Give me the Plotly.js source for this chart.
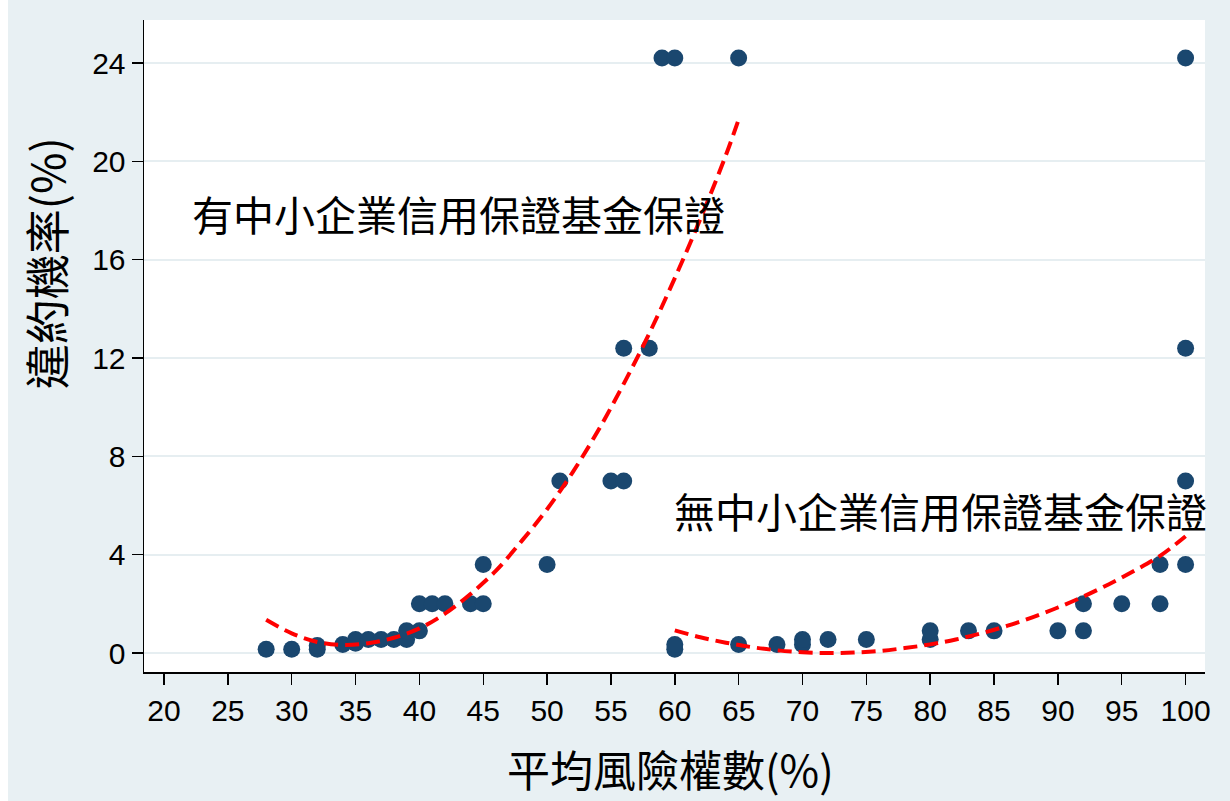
<!DOCTYPE html>
<html>
<head>
<meta charset="utf-8">
<script src="https://cdn.plot.ly/plotly-3.0.1.min.js"></script>
<style>
  html, body { margin: 0; padding: 0; background: #ffffff; }
  #chart { position: absolute; left: 8px; top: 0; width: 1222px; height: 801px; }
</style>
</head>
<body>
<div id="chart"></div>
<script>
// ---- Data ----
// Group with SME credit guarantee fund guarantee
const withGuarX = [28, 30, 32, 32, 34, 35, 35, 36, 37, 38, 39, 39, 40, 40, 41, 42, 44, 45, 45, 50, 51, 55, 56, 56, 58, 59, 60, 65];
const withGuarY = [0.15, 0.15, 0.15, 0.3, 0.35, 0.4, 0.55, 0.55, 0.55, 0.55, 0.55, 0.9, 0.9, 2.0, 2.0, 2.0, 2.0, 2.0, 3.6, 3.6, 7.0, 7.0, 7.0, 12.4, 12.4, 24.2, 24.2, 24.2];

// Group without guarantee
const noGuarX = [60, 60, 65, 68, 70, 70, 72, 75, 80, 80, 83, 85, 90, 92, 92, 95, 98, 98, 100, 100, 100, 100];
const noGuarY = [0.15, 0.35, 0.35, 0.35, 0.35, 0.55, 0.55, 0.55, 0.55, 0.9, 0.9, 0.9, 0.9, 0.9, 2.0, 2.0, 2.0, 3.6, 3.6, 7.0, 12.4, 24.2];

// Quadratic fit curves
const fitWithX = [28, 30, 32, 34, 36, 38, 40, 42, 44, 46, 48, 50, 52, 54, 56, 58, 60, 62, 64, 65];
const fitWithY = [1.35, 0.8, 0.45, 0.33, 0.4, 0.62, 1.0, 1.6, 2.4, 3.35, 4.55, 5.85, 7.35, 9.05, 10.95, 13.0, 15.25, 17.65, 20.25, 21.7];

const fitNoX = [60, 62, 64, 66, 68, 70, 72, 74, 76, 78, 80, 82, 84, 86, 88, 90, 92, 94, 96, 98, 100];
const fitNoY = [0.92, 0.64, 0.42, 0.24, 0.11, 0.03, 0.0, 0.02, 0.08, 0.2, 0.35, 0.55, 0.8, 1.1, 1.45, 1.85, 2.3, 2.8, 3.35, 3.95, 4.75];

// Axis ticks
const xTicks = [20, 25, 30, 35, 40, 45, 50, 55, 60, 65, 70, 75, 80, 85, 90, 95, 100];
const yTicks = [0, 4, 8, 12, 16, 20, 24];

// Texts
const labelWith = "有中小企業信用保證基金保證";
const labelNo = "無中小企業信用保證基金保證";
const xTitle = "平均風險權數(%)";
const yTitle = "違約機率(%)";

// ---- Styles ----
const navy = "#1a476f";
const red = "#ff0000";
const cjk = "Noto Sans CJK TC, Noto Sans CJK SC, sans-serif";

const markerStyle = { size: 17, color: navy, line: { width: 0 } };
const lineStyle = { color: red, width: 4, dash: "14px,7px", shape: "spline" };

const traces = [
  { x: withGuarX, y: withGuarY, type: "scatter", mode: "markers", marker: markerStyle, hoverinfo: "x+y" },
  { x: noGuarX, y: noGuarY, type: "scatter", mode: "markers", marker: markerStyle, hoverinfo: "x+y" },
  { x: fitWithX, y: fitWithY, type: "scatter", mode: "lines", line: lineStyle, hoverinfo: "skip" },
  { x: fitNoX, y: fitNoY, type: "scatter", mode: "lines", line: lineStyle, hoverinfo: "skip" }
];

const layout = {
  width: 1222,
  height: 801,
  margin: { l: 136, r: 25, t: 20, b: 129, pad: 0 },
  paper_bgcolor: "#e8f0f3",
  plot_bgcolor: "#ffffff",
  showlegend: false,
  font: { family: "Liberation Sans, Arial, sans-serif", color: "#000000" },
  xaxis: {
    range: [18.434, 101.52],
    tickmode: "array",
    tickvals: xTicks,
    ticktext: xTicks.map(String),
    ticks: "outside",
    ticklen: 11,
    tickwidth: 1.5,
    tickcolor: "#000000",
    showline: true,
    linecolor: "#000000",
    linewidth: 1.5,
    showgrid: false,
    zeroline: false,
    tickfont: { size: 30, family: "Liberation Sans, Arial, sans-serif", color: "#000000" }
  },
  yaxis: {
    range: [-0.773, 25.75],
    tickmode: "array",
    tickvals: yTicks,
    ticktext: yTicks.map(String),
    ticks: "outside",
    ticklen: 11,
    tickwidth: 1.5,
    tickcolor: "#000000",
    showline: true,
    linecolor: "#000000",
    linewidth: 1.5,
    showgrid: true,
    gridcolor: "#e6eef1",
    gridwidth: 2,
    zeroline: false,
    tickfont: { size: 30, family: "Liberation Sans, Arial, sans-serif", color: "#000000" }
  },
  annotations: [
    { text: labelWith, x: 22.0, y: 17.9, xref: "x", yref: "y", xanchor: "left", yanchor: "middle",
      showarrow: false, font: { family: cjk, size: 41, color: "#000000" } },
    { text: labelNo, x: 59.75, y: 5.8, xref: "x", yref: "y", xanchor: "left", yanchor: "middle",
      showarrow: false, font: { family: cjk, size: 41, color: "#000000" } },
    { text: xTitle, x: 0.4958, y: -0.1472, xref: "paper", yref: "paper", xanchor: "center", yanchor: "middle",
      showarrow: false, font: { family: cjk, size: 43, color: "#000000" } },
    { text: yTitle, x: -0.0933, y: 0.627, xref: "paper", yref: "paper", xanchor: "center", yanchor: "middle",
      textangle: -90, showarrow: false, font: { family: cjk, size: 45, color: "#000000" } }
  ]
};

Plotly.newPlot("chart", traces, layout, { displayModeBar: false, staticPlot: true });
</script>
</body>
</html>
